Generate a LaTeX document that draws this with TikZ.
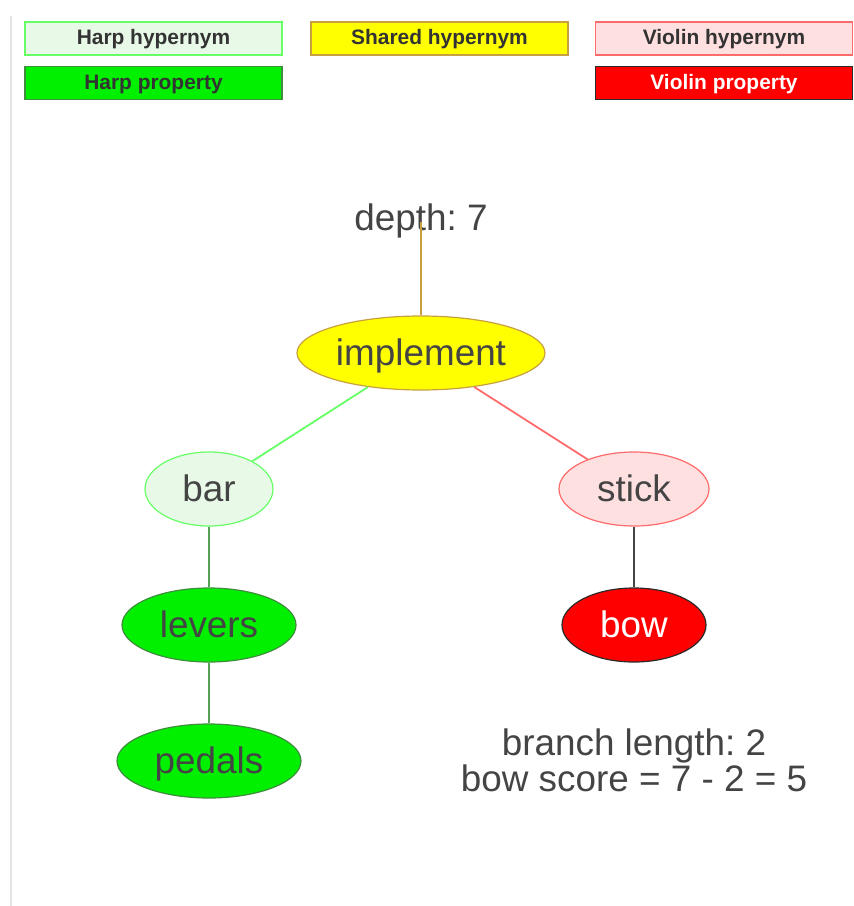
\documentclass[tikz,border=0pt]{standalone}
\usepackage{fontspec}
\setmainfont{Liberation Sans}
\usetikzlibrary{shapes.geometric}
\frenchspacing

\definecolor{txt}{HTML}{444444}
\definecolor{legtxt}{HTML}{333333}
\definecolor{harpHyFill}{HTML}{E8F9E8}
\definecolor{harpHyLine}{HTML}{66FF66}
\definecolor{sharedFill}{HTML}{FFFF00}
\definecolor{sharedLine}{HTML}{C9A040}
\definecolor{violHyFill}{HTML}{FFE0E0}
\definecolor{violHyLine}{HTML}{FF6B6B}
\definecolor{harpPropFill}{HTML}{00F000}
\definecolor{harpPropLine}{HTML}{3E8E3E}
\definecolor{violPropFill}{HTML}{FF0000}
\definecolor{violPropLine}{HTML}{2A2A2A}
\definecolor{harpEdge}{HTML}{55A055}
\definecolor{violEdge}{HTML}{444444}
\definecolor{frameLine}{HTML}{E4E4E4}

\tikzset{
  legend/.style={draw, line width=1.2bp, rectangle, minimum width=257bp, minimum height=33bp,
    inner sep=0pt, text height=14bp, text depth=2bp,
    font=\fontsize{21}{24}\selectfont\bfseries, text=legtxt},
  concept/.style={ellipse, draw, line width=1.2bp, inner sep=0pt, minimum height=74bp,
    text height=27bp, text depth=3bp,
    font=\fontsize{37}{42}\selectfont, text=txt},
  harphyper/.style={concept, fill=harpHyFill, draw=harpHyLine},
  shared/.style={concept, fill=sharedFill, draw=sharedLine},
  violhyper/.style={concept, fill=violHyFill, draw=violHyLine},
  harpprop/.style={concept, fill=harpPropFill, draw=harpPropLine},
  violprop/.style={concept, fill=violPropFill, draw=violPropLine, text=white},
  edge/.style={line width=1.8bp},
  note/.style={font=\fontsize{37}{36}\selectfont, text=txt, inner sep=0pt, align=center}
}

\begin{document}
\begin{tikzpicture}[x=1bp, y=-1bp]
\useasboundingbox (0,0) rectangle (854,906);

% page edge
\draw[frameLine, line width=1.5bp] (11,16) -- (11,906);

% legend
\node[legend, fill=harpHyFill, draw=harpHyLine] (lgHarpHy) at (153.5,38.5) {Harp hypernym};
\node[legend, fill=sharedFill, draw=sharedLine] (lgShared) at (439.5,38.5) {Shared hypernym};
\node[legend, fill=violHyFill, draw=violHyLine] (lgViolHy) at (724,38.5) {Violin hypernym};
\node[legend, fill=harpPropFill, draw=harpPropLine] (lgHarpProp) at (153.5,83) {Harp property};
\node[legend, fill=violPropFill, draw=violPropLine, text=white] (lgViolProp) at (724,83) {Violin property};

% tree
\node[note, anchor=base] (depth) at (421,230) {depth: 7};
\coordinate (depthfoot) at (421,222);

\node[shared, minimum width=248bp] (implement) at (421,353) {implement};
\node[harphyper, minimum width=128bp] (bar) at (209,489) {bar};
\node[violhyper, minimum width=150bp] (stick) at (634,489) {stick};
\node[harpprop, minimum width=174bp] (levers) at (209,625) {levers};
\node[violprop, minimum width=144bp] (bow) at (634,625) {bow};
\node[harpprop, minimum width=184bp] (pedals) at (209,761) {pedals};

\draw[edge, draw=sharedLine] (implement) -- (depthfoot);
\draw[edge, draw=harpHyLine] (implement) -- (bar);
\draw[edge, draw=violHyLine] (implement) -- (stick);
\draw[edge, draw=harpEdge] (bar) -- (levers);
\draw[edge, draw=harpEdge] (levers) -- (pedals);
\draw[edge, draw=violEdge] (stick) -- (bow);

\node[note] (score) at (634,760) {branch length: 2\\bow score = 7 - 2 = 5};
\end{tikzpicture}
\end{document}
